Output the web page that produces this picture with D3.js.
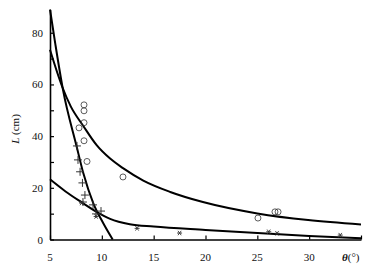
<!DOCTYPE html>
<html>
<head>
<meta charset="utf-8">
<script src="https://cdn.jsdelivr.net/npm/d3@7"></script>
<style>
    body { margin: 0; background: #fff; }
    .tick-label { font-family: "Liberation Serif", "DejaVu Serif", serif; font-size: 11px; fill: #111; }
</style>
</head>
<body>
<div id="chart"></div>
<script>
// axis ticks
const xTicks = [5, 10, 15, 20, 25, 30, 35];
const xTickLabels = [5, 10, 15, 20, 25, 30];
const yTicks = [0, 10, 20, 30, 40, 50, 60, 70, 80];
const yTickLabels = [0, 20, 40, 60, 80];

// circle markers
const circleTheta = [8.28, 8.28, 8.28, 7.8, 8.28, 8.57, 12.04, 25.06, 26.7, 27.0];
const circleL = [52.1, 49.8, 45.2, 43.2, 38.2, 30.2, 24.2, 8.3, 10.7, 10.7];

// plus markers
const plusTheta = [7.6, 7.7, 7.9, 8.13, 8.37, 8.18, 9.15, 9.92, 9.44];
const plusL = [36.2, 30.8, 26.2, 21.9, 17.2, 14.5, 13.4, 11.0, 9.9];

// star markers
const starTheta = [8.05, 9.45, 13.4, 17.5, 26.1, 26.9, 33.0];
const starL = [14.1, 8.9, 4.3, 2.5, 3.0, 2.4, 1.7];

// fitted curves
const midTheta = [5, 6.16, 7, 8.2, 9.5, 10.8, 12.04, 14, 16.6, 19.75, 25, 29.9, 35];
const midL = [73.4, 59.3, 51.5, 44, 36.5, 31.3, 27.6, 22.8, 18.4, 14.5, 10.1, 7.5, 5.8];

const steepTheta = [5, 5.5, 6.25, 7.57, 8.21, 9.18, 10.14, 11.05];
const steepL = [89, 76, 58, 36, 25.7, 14, 6.3, 0];

const flatTheta = [5, 6.5, 8.09, 9.53, 10.8, 12.7, 15, 20, 25, 30, 35];
const flatL = [23.3, 18.6, 14.3, 10.6, 8.0, 5.9, 5.0, 3.7, 2.5, 1.4, 0.5];

const width = 386, height = 276;

const svg = d3.select('#chart').append('svg')
    .attr('width', width)
    .attr('height', height);

const xScale = d3.scaleLinear().domain([5, 35]).range([50, 361]);
const yScale = d3.scaleLinear().domain([0, 89]).range([239.5, 9.5]);

const zip = (xs, ys) => xs.map((x, i) => ({x: x, y: ys[i]}));

const line = d3.line()
    .x(d => xScale(d.x))
    .y(d => yScale(d.y))
    .curve(d3.curveMonotoneX);

// curves
[[midTheta, midL], [steepTheta, steepL], [flatTheta, flatL]].forEach(c => {
    svg.append('path')
        .datum(zip(c[0], c[1]))
        .attr('fill', 'none')
        .attr('stroke', '#000')
        .attr('stroke-width', 2)
        .attr('d', line);
});

// axes
const xAxis = d3.axisBottom(xScale)
    .tickValues(xTicks)
    .tickSize(-4)
    .tickSizeOuter(0)
    .tickFormat('');
const yAxis = d3.axisLeft(yScale)
    .tickValues(yTicks)
    .tickSize(-4)
    .tickSizeOuter(0)
    .tickFormat('');

const xAxisG = svg.append('g')
    .attr('transform', `translate(0,${yScale(0)})`)
    .call(xAxis);
const yAxisG = svg.append('g')
    .attr('transform', `translate(${xScale(5)},0)`)
    .call(yAxis);

[xAxisG, yAxisG].forEach(g => {
    g.select('.domain').attr('stroke', '#000').attr('stroke-width', 1.6);
    g.selectAll('.tick line').attr('stroke', '#000').attr('stroke-width', 1.2);
});

svg.selectAll('.x-label')
    .data(xTickLabels)
    .join('text')
    .attr('class', 'tick-label')
    .attr('x', d => xScale(d))
    .attr('y', 261)
    .attr('text-anchor', 'middle')
    .text(d => d);

svg.selectAll('.y-label')
    .data(yTickLabels)
    .join('text')
    .attr('class', 'tick-label')
    .attr('x', 43)
    .attr('y', d => yScale(d) + 4)
    .attr('text-anchor', 'end')
    .text(d => d);

// axis titles
svg.append('text')
    .attr('class', 'tick-label')
    .attr('transform', 'translate(19,129) rotate(-90)')
    .attr('text-anchor', 'middle')
    .html('<tspan font-style="italic">L</tspan> (cm)');

svg.append('text')
    .attr('class', 'tick-label')
    .attr('x', 342)
    .attr('y', 261)
    .html('<tspan font-style="italic" font-weight="bold">θ</tspan>(°)');

// markers
svg.selectAll('.circle-pt')
    .data(zip(circleTheta, circleL))
    .join('circle')
    .attr('cx', d => xScale(d.x))
    .attr('cy', d => yScale(d.y))
    .attr('r', 3)
    .attr('fill', 'none')
    .attr('stroke', '#333')
    .attr('stroke-width', 0.8);

svg.selectAll('.plus-pt')
    .data(zip(plusTheta, plusL))
    .join('path')
    .attr('transform', d => `translate(${xScale(d.x)},${yScale(d.y)})`)
    .attr('d', 'M-4,0H4M0,-4V4')
    .attr('stroke', '#333')
    .attr('stroke-width', 1);

svg.selectAll('.star-pt')
    .data(zip(starTheta, starL))
    .join('path')
    .attr('transform', d => `translate(${xScale(d.x)},${yScale(d.y)})`)
    .attr('d', 'M-2.5,0H2.5M-1.6,-2.2L1.6,2.2M1.6,-2.2L-1.6,2.2')
    .attr('stroke', '#333')
    .attr('stroke-width', 0.9);
</script>
</body>
</html>
